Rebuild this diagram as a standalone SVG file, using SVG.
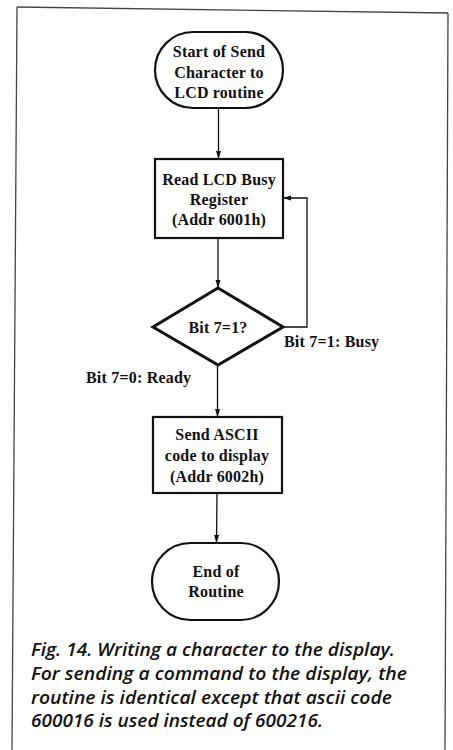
<svg xmlns="http://www.w3.org/2000/svg" width="453" height="750" viewBox="0 0 453 750">
<defs>
<marker id="ah" viewBox="0 0 8 6" refX="8" refY="3" markerWidth="8" markerHeight="6" markerUnits="userSpaceOnUse" orient="auto">
<path d="M0,0.5 L8,3 L0,5.5 Z" fill="#111"/>
</marker>
<style>
.frame{fill:none;stroke:#444;stroke-width:1.3}
.shape{fill:#fff;stroke:#111;stroke-width:2.2}
.dia{fill:#fff;stroke:#111;stroke-width:3}
.conn{fill:none;stroke:#111;stroke-width:1.3;marker-end:url(#ah)}
.t{font-family:"Liberation Serif","Times New Roman",serif;font-size:16px;font-weight:bold;fill:#111;text-anchor:middle;letter-spacing:0.2px}
.lbl{font-family:"Liberation Serif","Times New Roman",serif;font-size:16px;font-weight:bold;fill:#111;letter-spacing:0.2px}
.cap{font-family:"Open Sans","Liberation Sans",sans-serif;font-size:18.5px;font-style:italic;font-weight:600;fill:#111}
</style>
</defs>
<rect width="453" height="750" fill="#fff"/>
<g id="frame">
<line class="frame" x1="17" y1="7" x2="448" y2="13"/>
<line class="frame" x1="17" y1="7" x2="12" y2="750"/>
<line class="frame" x1="448" y1="13" x2="445" y2="750"/>
</g>
<g id="connectors">
<line class="conn" x1="218.5" y1="108" x2="218.5" y2="159"/>
<line class="conn" x1="218" y1="238" x2="218" y2="288"/>
<polyline class="conn" points="283,327 307,327 307,198 283,198"/>
<line class="conn" x1="217.5" y1="365" x2="217.5" y2="417"/>
<line class="conn" x1="217" y1="493" x2="216.5" y2="543"/>
</g>
<g id="start">
<rect class="shape" x="155" y="32" width="128" height="76" rx="38" ry="38"/>
<text class="t" x="219" y="57">Start of Send</text>
<text class="t" x="219" y="78">Character to</text>
<text class="t" x="219" y="98">LCD routine</text>
</g>
<g id="read">
<rect class="shape" x="155" y="159" width="128" height="79"/>
<text class="t" x="219" y="185">Read LCD Busy</text>
<text class="t" x="219" y="205">Register</text>
<text class="t" x="219" y="225">(Addr 6001h)</text>
</g>
<g id="decision">
<polygon class="dia" points="218,288 283,327 218,365 153,327"/>
<text class="t" x="218" y="333">Bit 7=1?</text>
</g>
<g id="labels">
<text class="lbl" x="284" y="347">Bit 7=1: Busy</text>
<text class="lbl" x="86" y="383">Bit 7=0: Ready</text>
</g>
<g id="send">
<rect class="shape" x="153" y="417" width="129" height="76"/>
<text class="t" x="217" y="440">Send ASCII</text>
<text class="t" x="217" y="461">code to display</text>
<text class="t" x="217" y="482">(Addr 6002h)</text>
</g>
<g id="end">
<rect class="shape" x="152" y="543" width="127" height="77" rx="38.5" ry="38.5"/>
<text class="t" x="216" y="577">End of</text>
<text class="t" x="216" y="597">Routine</text>
</g>
<g id="caption">
<text class="cap" x="31" y="656" textLength="364" lengthAdjust="spacingAndGlyphs">Fig. 14. Writing a character to the display.</text>
<text class="cap" x="31" y="680" textLength="376" lengthAdjust="spacingAndGlyphs">For sending a command to the display, the</text>
<text class="cap" x="31" y="704" textLength="361" lengthAdjust="spacingAndGlyphs">routine is identical except that ascii code</text>
<text class="cap" x="31" y="727" textLength="292" lengthAdjust="spacingAndGlyphs">600016 is used instead of 600216.</text>
</g>
</svg>
